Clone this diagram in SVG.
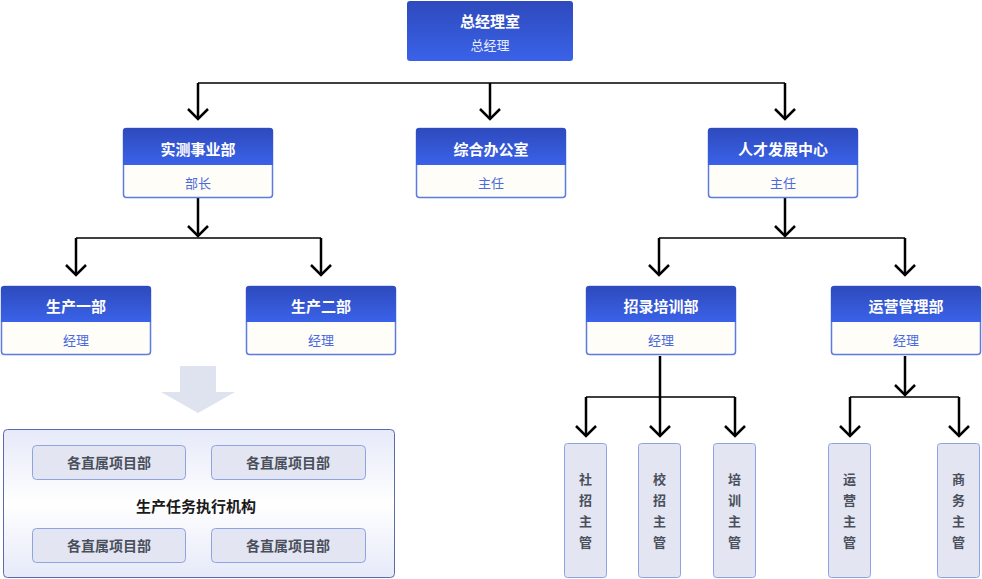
<svg xmlns="http://www.w3.org/2000/svg" width="982" height="579" viewBox="0 0 982 579">
<defs>
<linearGradient id="hdr" x1="0" y1="0" x2="0" y2="1"><stop offset="0" stop-color="#2e4abd"/><stop offset="1" stop-color="#3a62e8"/></linearGradient>
<linearGradient id="panel" x1="0" y1="0" x2="0" y2="1"><stop offset="0" stop-color="#e6e9f9"/><stop offset="0.5" stop-color="#ffffff"/><stop offset="1" stop-color="#e6e9f9"/></linearGradient>
<marker id="ah" viewBox="-12 -12 14 24" refX="0" refY="0" markerWidth="14" markerHeight="24" markerUnits="userSpaceOnUse" orient="auto">
<path d="M-10,-10 L0,0 L-10,10" fill="none" stroke="#000" stroke-width="2.5"/>
</marker>
</defs>
<style>
.t{font-family:"Noto Sans CJK SC","Noto Sans",sans-serif;font-weight:bold;fill:#fff;font-size:15px;text-anchor:middle}
.s{font-family:"Noto Sans CJK SC","Noto Sans",sans-serif;fill:#4a6ae0;font-size:13px;text-anchor:middle}
.hd{fill:url(#hdr)}
.bd{fill:#fffdf7;stroke:#5b7be0;stroke-width:1.5}
.leaf{fill:#e3e6f2;stroke:#8fa3e0;stroke-width:1}
.lt{font-family:"Noto Sans CJK SC","Noto Sans",sans-serif;font-weight:bold;fill:#4a4f5c;font-size:13px;text-anchor:middle}
.v{fill:none;stroke:#000;stroke-width:2.5}
.h{fill:none;stroke:#000;stroke-width:1.5}
</style>
<g id="connectors">
<path class="h" d="M198,83 H785" stroke="#666"/>
<path class="v" d="M198,83 V119" marker-end="url(#ah)"/>
<path class="v" d="M490,83 V119" marker-end="url(#ah)"/>
<path class="v" d="M785,83 V119" marker-end="url(#ah)"/>
<path class="v" d="M198,198 V236" marker-end="url(#ah)"/>
<path class="h" d="M76,238 H321"/>
<path class="v" d="M76,238 V275" marker-end="url(#ah)"/>
<path class="v" d="M321,238 V275" marker-end="url(#ah)"/>
<path class="v" d="M785,198 V236" marker-end="url(#ah)"/>
<path class="h" d="M659,238 H905"/>
<path class="v" d="M659,238 V275" marker-end="url(#ah)"/>
<path class="v" d="M905,238 V275" marker-end="url(#ah)"/>
<path class="h" d="M586,397 H735"/>
<path class="v" d="M586,397 V436" marker-end="url(#ah)"/>
<path class="v" d="M660,356 V436" marker-end="url(#ah)"/>
<path class="v" d="M735,397 V436" marker-end="url(#ah)"/>
<path class="v" d="M905,356 V395" marker-end="url(#ah)"/>
<path class="h" d="M850,397 H959"/>
<path class="v" d="M850,397 V436" marker-end="url(#ah)"/>
<path class="v" d="M959,397 V436" marker-end="url(#ah)"/>
</g>
<g id="n-top">
<rect x="407" y="1" width="166" height="60" rx="3" class="hd"/>
<text x="490" y="27" class="t">总经理室</text>
<text x="490" y="50" class="s" fill="#fff" style="fill:#e8edff">总经理</text>
</g>
<g id="n-shice">
<rect x="123.5" y="128.5" width="149" height="69" rx="3" class="bd"/>
<path d="M123,131 a3,3 0 0 1 3,-3 H270 a3,3 0 0 1 3,3 V165 H123 Z" class="hd"/>
<text x="198" y="155" class="t">实测事业部</text>
<text x="198" y="188" class="s">部长</text>
</g>
<g id="n-zonghe">
<rect x="416.5" y="128.5" width="149" height="69" rx="3" class="bd"/>
<path d="M416,131 a3,3 0 0 1 3,-3 H563 a3,3 0 0 1 3,3 V165 H416 Z" class="hd"/>
<text x="491" y="155" class="t">综合办公室</text>
<text x="491" y="188" class="s">主任</text>
</g>
<g id="n-rencai">
<rect x="708.5" y="128.5" width="149" height="69" rx="3" class="bd"/>
<path d="M708,131 a3,3 0 0 1 3,-3 H855 a3,3 0 0 1 3,3 V165 H708 Z" class="hd"/>
<text x="783" y="155" class="t">人才发展中心</text>
<text x="783" y="188" class="s">主任</text>
</g>
<g id="n-sc1">
<rect x="1.5" y="286.5" width="149" height="68" rx="3" class="bd"/>
<path d="M1,289 a3,3 0 0 1 3,-3 H148 a3,3 0 0 1 3,3 V322 H1 Z" class="hd"/>
<text x="76" y="312" class="t">生产一部</text>
<text x="76" y="345" class="s">经理</text>
</g>
<g id="n-sc2">
<rect x="246.5" y="286.5" width="149" height="68" rx="3" class="bd"/>
<path d="M246,289 a3,3 0 0 1 3,-3 H393 a3,3 0 0 1 3,3 V322 H246 Z" class="hd"/>
<text x="321" y="312" class="t">生产二部</text>
<text x="321" y="345" class="s">经理</text>
</g>
<g id="n-zhaolu">
<rect x="586.5" y="286.5" width="149" height="68" rx="3" class="bd"/>
<path d="M586,289 a3,3 0 0 1 3,-3 H733 a3,3 0 0 1 3,3 V322 H586 Z" class="hd"/>
<text x="661" y="312" class="t">招录培训部</text>
<text x="661" y="345" class="s">经理</text>
</g>
<g id="n-yunying">
<rect x="831.5" y="286.5" width="149" height="68" rx="3" class="bd"/>
<path d="M831,289 a3,3 0 0 1 3,-3 H978 a3,3 0 0 1 3,3 V322 H831 Z" class="hd"/>
<text x="906" y="312" class="t">运营管理部</text>
<text x="906" y="345" class="s">经理</text>
</g>
<g id="n-shezhao">
<rect x="564.5" y="443.5" width="42" height="134" rx="3" class="leaf"/>
<text class="lt"><tspan x="585.5" y="484">社</tspan><tspan x="585.5" y="505">招</tspan><tspan x="585.5" y="526">主</tspan><tspan x="585.5" y="547">管</tspan></text>
</g>
<g id="n-xiaozhao">
<rect x="638.5" y="443.5" width="42" height="134" rx="3" class="leaf"/>
<text class="lt"><tspan x="659.5" y="484">校</tspan><tspan x="659.5" y="505">招</tspan><tspan x="659.5" y="526">主</tspan><tspan x="659.5" y="547">管</tspan></text>
</g>
<g id="n-peixun">
<rect x="713.5" y="443.5" width="42" height="134" rx="3" class="leaf"/>
<text class="lt"><tspan x="734.5" y="484">培</tspan><tspan x="734.5" y="505">训</tspan><tspan x="734.5" y="526">主</tspan><tspan x="734.5" y="547">管</tspan></text>
</g>
<g id="n-yyzg">
<rect x="828.5" y="443.5" width="42" height="134" rx="3" class="leaf"/>
<text class="lt"><tspan x="849.5" y="484">运</tspan><tspan x="849.5" y="505">营</tspan><tspan x="849.5" y="526">主</tspan><tspan x="849.5" y="547">管</tspan></text>
</g>
<g id="n-swzg">
<rect x="937.5" y="443.5" width="42" height="134" rx="3" class="leaf"/>
<text class="lt"><tspan x="958.5" y="484">商</tspan><tspan x="958.5" y="505">务</tspan><tspan x="958.5" y="526">主</tspan><tspan x="958.5" y="547">管</tspan></text>
</g>
<g id="big-arrow">
<path d="M180,366 H216 V392 H235 L198,413 L161,392 H180 Z" fill="#dfe3f0"/>
</g>
<g id="n-exec">
<rect x="3.5" y="429.5" width="391" height="148" rx="4" fill="url(#panel)" stroke="#5b6aa8" stroke-width="1"/>
<rect x="32.5" y="445.5" width="153" height="34" rx="4" class="leaf"/>
<rect x="211.5" y="445.5" width="154" height="34" rx="4" class="leaf"/>
<rect x="32.5" y="528.5" width="153" height="34" rx="4" class="leaf"/>
<rect x="211.5" y="528.5" width="154" height="34" rx="4" class="leaf"/>
<text x="109" y="468" class="lt" style="font-size:14px">各直属项目部</text>
<text x="288" y="468" class="lt" style="font-size:14px">各直属项目部</text>
<text x="109" y="551" class="lt" style="font-size:14px">各直属项目部</text>
<text x="288" y="551" class="lt" style="font-size:14px">各直属项目部</text>
<text x="196" y="512" class="t" style="fill:#1a1a1a">生产任务执行机构</text>
</g>
</svg>
